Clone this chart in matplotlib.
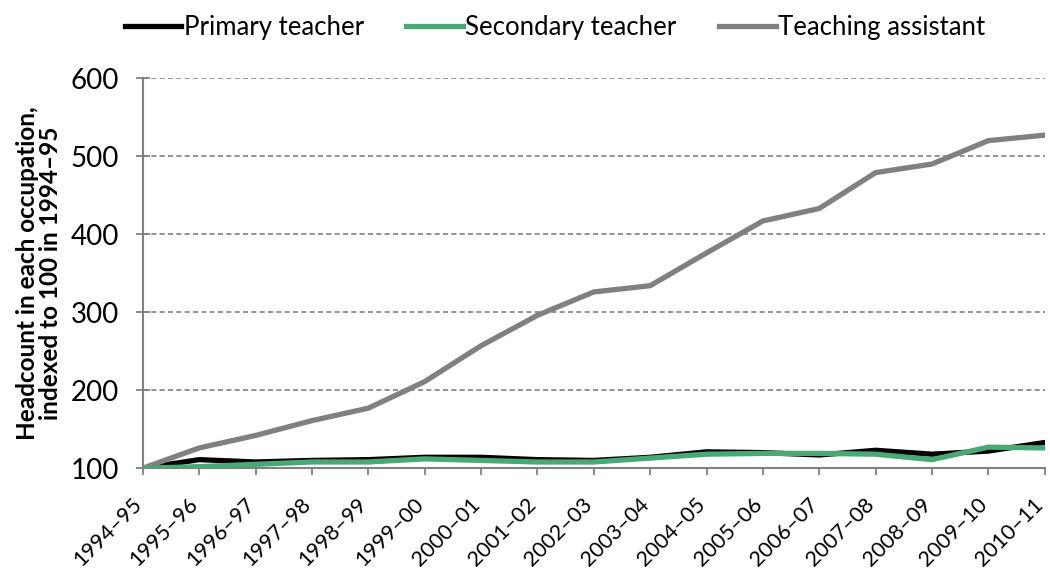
import matplotlib.pyplot as plt

years = ['1994–95', '1995–96', '1996–97', '1997–98', '1998–99', '1999–00',
         '2000–01', '2001–02', '2002–03', '2003–04', '2004–05', '2005–06',
         '2006–07', '2007–08', '2008–09', '2009–10', '2010–11']
primary = [100, 111, 108, 110, 111, 114, 114, 111, 110, 114, 121, 120,
           117, 123, 118, 122, 133]
secondary = [100, 102, 105, 108, 108, 112, 110, 108, 108, 113, 118, 119,
             119, 118, 111, 127, 126]
assistant = [100, 126, 142, 161, 177, 211, 257, 296, 326, 334, 376, 417,
             433, 479, 490, 520, 527]

plt.rcParams['font.family'] = ['Lato', 'DejaVu Sans']

fig = plt.figure(figsize=(10.5, 5.71), dpi=100)
ax = fig.add_axes([0.136, 0.180, 0.859, 0.683])

x = range(len(years))
ax.plot(x, primary, color='black', lw=3.8, label='Primary teacher', zorder=3)
ax.plot(x, secondary, color='#47a973', lw=3.8, label='Secondary teacher', zorder=4)
ax.plot(x, assistant, color='#808080', lw=3.8, label='Teaching assistant', zorder=3)

ax.set_xlim(0, len(years) - 1)
ax.set_ylim(100, 600)
ax.set_yticks([100, 200, 300, 400, 500, 600])
ax.set_xticks(list(x))
ax.set_xticklabels(years, rotation=45, ha='right', va='baseline',
                   rotation_mode='anchor', fontsize=15.5)
ax.tick_params(axis='y', labelsize=20, direction='inout', length=10, pad=12,
               color='#808080', width=1.3)
ax.tick_params(axis='x', length=5, pad=22, color='#808080', width=1.3)
ax.yaxis.grid(True, linestyle=(0, (3, 2)), color='#808080', lw=1.2)
ax.set_axisbelow(True)
for s in ['top', 'right']:
    ax.spines[s].set_visible(False)
for s in ['left', 'bottom']:
    ax.spines[s].set_color('#808080')
    ax.spines[s].set_linewidth(1.5)

ax.set_ylabel('Headcount in each occupation,\nindexed to 100 in 1994–95',
              fontsize=17.5, fontweight='bold', linespacing=1.0, labelpad=6)

ax.legend(loc='center', bbox_to_anchor=(0.457, 1.13), ncol=3, frameon=False,
          fontsize=18.5, handlelength=2.2, handletextpad=0.1, columnspacing=1.65)

fig.savefig('out.png')
